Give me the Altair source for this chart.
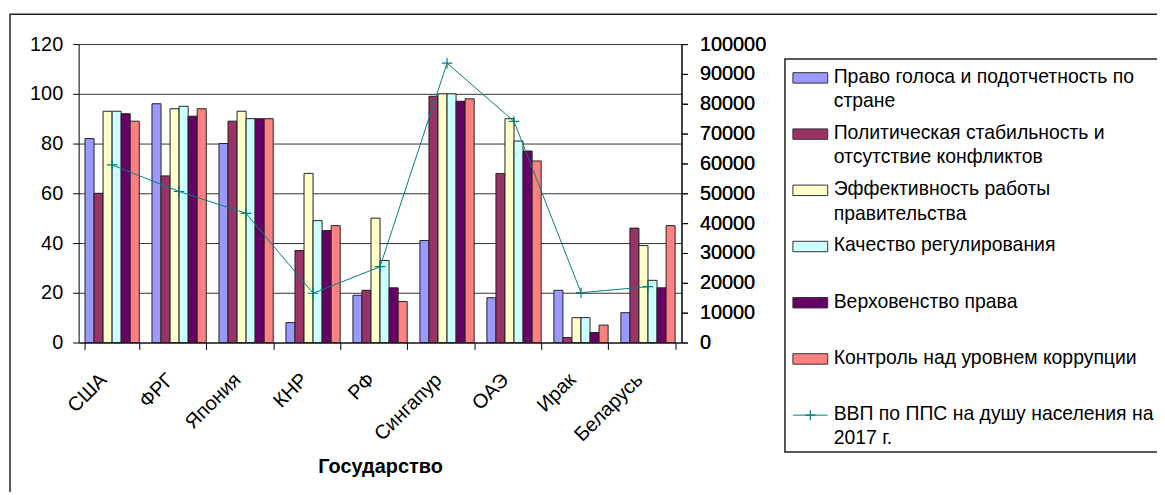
import altair as alt
import pandas as pd

countries = ["США", "ФРГ", "Япония", "КНР", "РФ", "Сингапур", "ОАЭ", "Ирак", "Беларусь"]
series = [
    "Право голоса и подотчетность по стране",
    "Политическая стабильность и отсутствие конфликтов",
    "Эффективность работы правительства",
    "Качество регулирования",
    "Верховенство права",
    "Контроль над уровнем коррупции",
]
line_name = "ВВП по ППС на душу населения на 2017 г."
legend_labels = [
    "Право голоса и подотчетность по\nстране",
    "Политическая стабильность и\nотсутствие конфликтов",
    "Эффективность работы\nправительства",
    "Качество регулирования",
    "Верховенство права",
    "Контроль над уровнем коррупции",
    "ВВП по ППС на душу населения на\n2017 г.",
]
voice = [82, 96, 80, 8, 19, 41, 18, 21, 12]
stability = [60, 67, 89, 37, 21, 99, 68, 2, 46]
effectiveness = [93, 94, 93, 68, 50, 100, 90, 10, 39]
regulatory = [93, 95, 90, 49, 33, 100, 81, 10, 25]
rule_of_law = [92, 91, 90, 45, 22, 97, 77, 4, 22]
corruption = [89, 94, 90, 47, 16.5, 98, 73, 7, 47]
gdp = [59500, 50600, 43300, 16500, 25400, 93600, 74100, 16700, 18700]
colors = ["#9999FF", "#993366", "#FFFFCC", "#CCFFFF", "#660066", "#FF8080"]
line_color = "#008080"

FONT = "Liberation Sans"
FS = 20

rows = []
for s, vals in zip(series, [voice, stability, effectiveness, regulatory, rule_of_law, corruption]):
    for c, v in zip(countries, vals):
        rows.append({"country": c, "series": s, "value": v})
bars_df = pd.DataFrame(rows)
gdp_df = pd.DataFrame({"country": countries, "gdp": gdp})
leg_df = pd.DataFrame({"idx": list(range(6)), "series": series})
leg_text_df = pd.DataFrame({"idx": list(range(7)), "label": legend_labels})
leg_line_df = pd.DataFrame({"idx": [6]})
one = pd.DataFrame({"a": [0]})

xscale = alt.Scale(paddingInner=0.19, paddingOuter=0.095)
xenc = alt.X(
    "country:N", sort=countries, scale=xscale,
    axis=alt.Axis(title="Государство", labelAngle=-45, tickBand="extent",
                  labelFont=FONT, labelFontSize=FS, labelColor="black",
                  labelOffset=-16, labelPadding=20,
                  titleFont=FONT, titleFontSize=FS, titleFontWeight="bold",
                  titleColor="black", titlePadding=12, domainColor="black",
                  tickColor="black", tickSize=7, grid=False),
)

bars = alt.Chart(bars_df).mark_bar(stroke="#222222", strokeWidth=1).encode(
    x=xenc,
    xOffset=alt.XOffset("series:N", sort=series, scale=alt.Scale(paddingInner=0, paddingOuter=0)),
    y=alt.Y("value:Q", scale=alt.Scale(domain=[0, 120]),
            axis=alt.Axis(title=None, orient="left", values=list(range(0, 121, 20)),
                          labelFont=FONT, labelFontSize=FS, labelColor="black",
                          domainColor="black", tickColor="black", tickSize=6,
                          labelPadding=10, grid=True, gridColor="#333333", gridWidth=1)),
    color=alt.Color("series:N", scale=alt.Scale(domain=series, range=colors), legend=None),
)

yline = alt.Y("gdp:Q", scale=alt.Scale(domain=[0, 100000]),
              axis=alt.Axis(title=None, orient="right", values=list(range(0, 100001, 10000)),
                            format="d", labelFont=FONT, labelFontSize=FS, labelColor="black",
                            domainColor="black", tickColor="black", tickSize=6,
                            labelPadding=12, grid=False))
line = alt.Chart(gdp_df).mark_line(color=line_color, strokeWidth=1).encode(
    x=alt.X("country:N", sort=countries), y=yline)
plus_shape = "M-1,0L1,0M0,-1L0,1"
pts = alt.Chart(gdp_df).mark_point(shape=plus_shape, size=110, filled=False,
                                   color=line_color, strokeWidth=1.2, opacity=1).encode(
    x=alt.X("country:N", sort=countries), y=yline)

leg_scale = alt.Scale(domain=[0, 6], range=[34, 373], zero=False, nice=False)
border = alt.Chart(one).mark_rect(fill="transparent", stroke="#222222", strokeWidth=1.5).encode(
    x=alt.value(-69), x2=alt.value(1120), y=alt.value(-30), y2=alt.value(470))
legbox = alt.Chart(one).mark_rect(fill="white", stroke="#222222", strokeWidth=1.5).encode(
    x=alt.value(710), x2=alt.value(1120), y=alt.value(15), y2=alt.value(410))
leg_sym = alt.Chart(leg_df).mark_point(
    shape="M-1,-0.3L1,-0.3L1,0.3L-1,0.3Z", size=1225, filled=True,
    stroke="#333333", strokeWidth=1, opacity=1).encode(
    x=alt.value(735.5), y=alt.Y("idx:Q", scale=leg_scale, axis=None),
    color=alt.Color("series:N", scale=alt.Scale(domain=series, range=colors), legend=None))
leg_rule = alt.Chart(leg_line_df).mark_rule(color=line_color, strokeWidth=1).encode(
    x=alt.value(718), x2=alt.value(753), y=alt.Y("idx:Q", scale=leg_scale, axis=None))
leg_plus = alt.Chart(leg_line_df).mark_point(shape=plus_shape, size=110, filled=False,
                                             color=line_color, strokeWidth=1.2, opacity=1).encode(
    x=alt.value(735.5), y=alt.Y("idx:Q", scale=leg_scale, axis=None))
leg_text = alt.Chart(leg_text_df).mark_text(
    align="left", baseline="top", dy=-10, font=FONT, fontSize=19.5, color="black",
    lineBreak="\n", lineHeight=24.5).encode(
    x=alt.value(759), y=alt.Y("idx:Q", scale=leg_scale, axis=None), text="label:N")

chart = alt.layer(border, bars, line, pts, legbox, leg_sym, leg_rule, leg_plus, leg_text).resolve_scale(
    y="independent", color="shared"
).properties(
    width=606, height=300,
    autosize=alt.AutoSizeParams(type="none"),
    padding={"left": 71, "top": 35, "right": 478, "bottom": 149},
    background="white",
).configure_view(stroke=None)

chart.save("out.html", embed_options={"renderer": "svg", "actions": False})
